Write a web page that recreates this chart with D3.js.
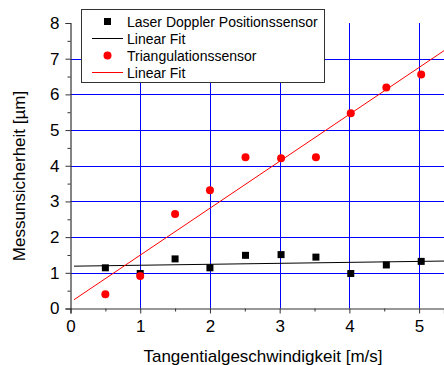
<!DOCTYPE html>
<html>
<head>
<meta charset="utf-8">
<script src="https://cdn.jsdelivr.net/npm/d3@7"></script>
<style>
  body { margin: 0; background: #fff; }
  svg { display: block; font-family: "Liberation Sans", Arial, sans-serif; }
</style>
</head>
<body>
<svg id="chart" width="444" height="365"></svg>
<script>
// velocities [m/s]
let speedLaser = [0.5, 1.0, 1.5, 2.0, 2.51, 3.02, 3.52, 4.02, 4.53, 5.03]
let laserValues = [1.14, 0.98, 1.39, 1.14, 1.49, 1.51, 1.44, 0.98, 1.22, 1.32]
let speedTri = [0.5, 1.0, 1.5, 2.0, 2.51, 3.02, 3.52, 4.02, 4.53, 5.03]
let triValues = [0.40, 0.91, 2.65, 3.31, 4.24, 4.21, 4.24, 5.47, 6.19, 6.56]

// linear fits
let laserFit = {intercept: 1.185, slope: 0.027}
let triFit = {intercept: 0.18, slope: 1.315}
let fitRange = [0.05, 5.6]

let xTicks = [0, 1, 2, 3, 4, 5]
let yTicks = [0, 1, 2, 3, 4, 5, 6, 7, 8]
let legendLabels = ['Laser Doppler Positionssensor', 'Linear Fit', 'Triangulationssensor', 'Linear Fit']
let legendKinds = ['square', 'line', 'circle', 'line']
let legendColors = ['#000', '#000', '#ff0000', '#ff0000']

let svg = d3.select('#chart')
let plotLeft = 70.5, plotRight = 444, plotTop = 23, plotBottom = 308.5

let x = d3.scaleLinear().domain([0, 5.357]).range([plotLeft, plotRight])
let y = d3.scaleLinear().domain([0, 8]).range([plotBottom, plotTop])

svg.append('defs').append('clipPath').attr('id', 'clip')
    .append('rect').attr('x', plotLeft).attr('y', plotTop)
    .attr('width', plotRight - plotLeft).attr('height', plotBottom - plotTop)

// grid
let grid = svg.append('g')
grid.selectAll('.vg')
    .data(xTicks.filter(function (d) { return d > 0 }))
    .enter().append('line')
    .attr('x1', function (d) { return Math.round(x(d)) + 0.5 })
    .attr('x2', function (d) { return Math.round(x(d)) + 0.5 })
    .attr('y1', plotTop).attr('y2', plotBottom)
    .attr('stroke', '#0000ff').attr('stroke-width', 1)
grid.selectAll('.hg')
    .data(yTicks.filter(function (d) { return d > 0 && d < 8 }))
    .enter().append('line')
    .attr('y1', function (d) { return Math.round(y(d)) + 0.5 })
    .attr('y2', function (d) { return Math.round(y(d)) + 0.5 })
    .attr('x1', plotLeft).attr('x2', plotRight)
    .attr('stroke', '#0000ff').attr('stroke-width', 1)

// fit lines
let plot = svg.append('g').attr('clip-path', 'url(#clip)')
let line = d3.line().x(function (d) { return x(d[0]) }).y(function (d) { return y(d[1]) })
function fitPoints(f) {
    return fitRange.map(function (v) { return [v, f.intercept + f.slope * v] })
}
plot.append('path').datum(fitPoints(laserFit)).attr('d', line)
    .attr('fill', 'none').attr('stroke', '#000').attr('stroke-width', 1)
plot.append('path').datum(fitPoints(triFit)).attr('d', line)
    .attr('fill', 'none').attr('stroke', '#ff0000').attr('stroke-width', 1)

// points
svg.append('g').selectAll('rect')
    .data(d3.zip(speedLaser, laserValues))
    .enter().append('rect')
    .attr('x', function (d) { return x(d[0]) - 3.5 })
    .attr('y', function (d) { return y(d[1]) - 3.5 })
    .attr('width', 7).attr('height', 7)
    .attr('fill', '#000')
svg.append('g').selectAll('circle')
    .data(d3.zip(speedTri, triValues))
    .enter().append('circle')
    .attr('cx', function (d) { return x(d[0]) })
    .attr('cy', function (d) { return y(d[1]) })
    .attr('r', 4)
    .attr('fill', '#ff0000')

// axes
let axisColor = '#333'
let xAxis = svg.append('g').attr('transform', `translate(0,${plotBottom})`)
    .call(d3.axisBottom(x).tickValues(xTicks).tickFormat(d3.format('d')).tickSize(5).tickPadding(6))
let xMinor = svg.append('g').attr('transform', `translate(0,${plotBottom})`)
    .call(d3.axisBottom(x).tickValues([0.5, 1.5, 2.5, 3.5, 4.5]).tickFormat('').tickSize(3))
let yAxis = svg.append('g').attr('transform', `translate(${plotLeft},0)`)
    .call(d3.axisLeft(y).tickValues(yTicks).tickFormat(d3.format('d')).tickSize(5).tickPadding(6))
let yMinor = svg.append('g').attr('transform', `translate(${plotLeft},0)`)
    .call(d3.axisLeft(y).tickValues(d3.range(0.5, 8, 1)).tickFormat('').tickSize(3))

;[xAxis, xMinor, yAxis, yMinor].forEach(function (a) {
    a.select('.domain').attr('stroke', axisColor).attr('stroke-width', 1.2)
    a.selectAll('.tick line').attr('stroke', axisColor)
    a.selectAll('text').attr('fill', '#000').style('font-size', '17px').style('font-family', '"Liberation Sans", Arial, sans-serif')
})
xMinor.select('.domain').remove()
yMinor.select('.domain').remove()

// axis titles
svg.append('text')
    .attr('x', 263).attr('y', 361.5)
    .attr('text-anchor', 'middle')
    .style('font-size', '17px')
    .text('Tangentialgeschwindigkeit [m/s]')
svg.append('text')
    .attr('transform', 'translate(25,176) rotate(-90)')
    .attr('text-anchor', 'middle')
    .style('font-size', '17px')
    .text('Messunsicherheit [µm]')

// legend
let legend = svg.append('g')
legend.append('rect')
    .attr('x', 81.5).attr('y', 9.5).attr('width', 243).attr('height', 73)
    .attr('fill', '#fff').attr('stroke', '#333').attr('stroke-width', 1)
let rowY = [21.5, 38.5, 55.5, 72.5]
let items = legend.selectAll('.item')
    .data(d3.range(legendLabels.length))
    .enter().append('g')
    .attr('transform', function (i) { return `translate(0,${rowY[i]})` })
items.append('text')
    .attr('x', 127).attr('y', 5)
    .style('font-size', '14px')
    .text(function (i) { return legendLabels[i] })
items.filter(function (i) { return legendKinds[i] === 'square' }).append('rect')
    .attr('x', 104).attr('y', -3.5).attr('width', 7).attr('height', 7)
    .attr('fill', function (i) { return legendColors[i] })
items.filter(function (i) { return legendKinds[i] === 'circle' }).append('circle')
    .attr('cx', 107.5).attr('cy', 0).attr('r', 4)
    .attr('fill', function (i) { return legendColors[i] })
items.filter(function (i) { return legendKinds[i] === 'line' }).append('line')
    .attr('x1', 92).attr('x2', 123).attr('y1', 0).attr('y2', 0)
    .attr('stroke', function (i) { return legendColors[i] })
    .attr('stroke-width', 1)
</script>
</body>
</html>
